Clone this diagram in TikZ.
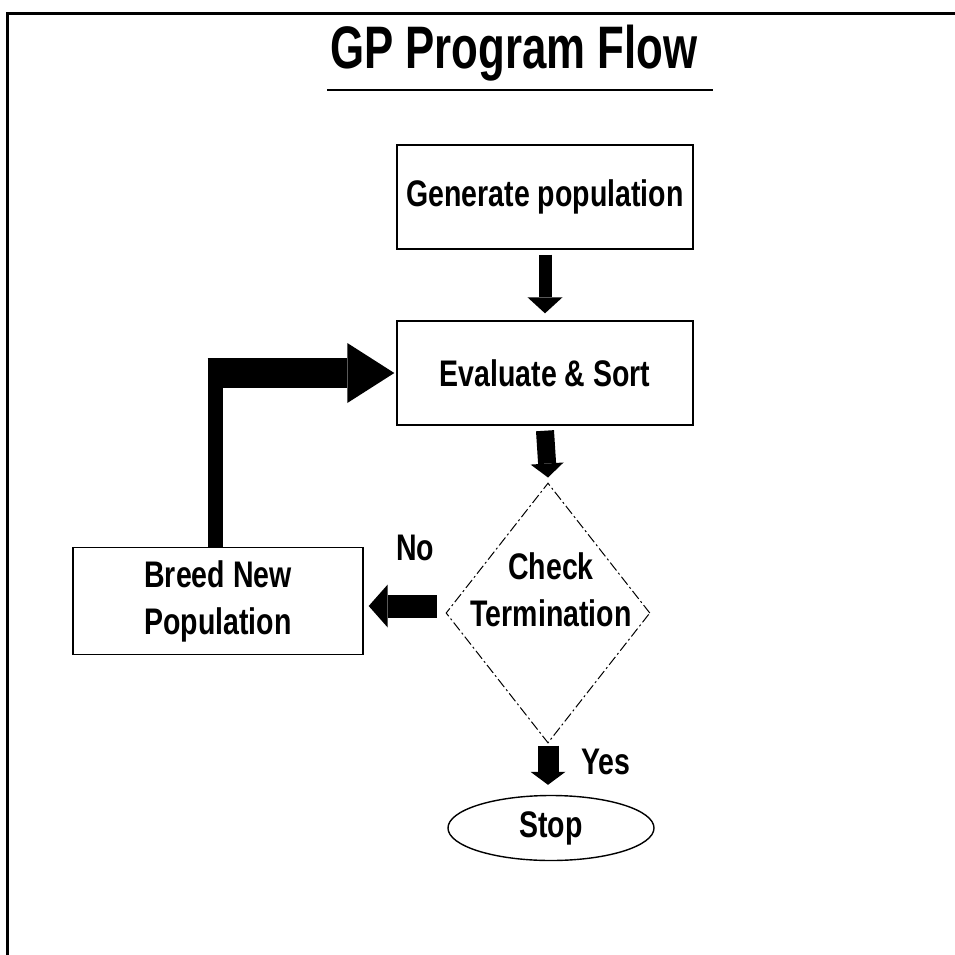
\documentclass[tikz,border=0pt]{standalone}
\usepackage{fontspec}
\setmainfont{Liberation Sans}[FakeStretch=0.77]
\newfontfamily\titlefont{Liberation Sans}[FakeStretch=0.73]
\usetikzlibrary{arrows.meta,shapes.geometric,calc}
\begin{document}
\begin{tikzpicture}[x=0.5pt,y=-0.5pt,
    box/.style={draw,line width=0.7pt,minimum width=148pt,minimum height=52pt,inner sep=0pt,align=center,font=\bfseries\fontsize{18.5}{23.5}\selectfont},
    lbl/.style={inner sep=0pt,align=center,font=\bfseries\fontsize{18.5}{23.5}\selectfont},
    blk/.style n args={3}{line width=#1,-{Triangle[width=#2,length=#3,line width=0pt]}}]
      \useasboundingbox (0,0) rectangle (955,955);
      \draw[line width=1.5pt] (7,955) -- (7,13) -- (955,13);
      \node[inner sep=0pt,font=\titlefont\bfseries\fontsize{30}{36}\selectfont] (title) at (514,53) {GP Program Flow};
      \draw[line width=1pt] (327,90) -- (713,90);
      \node[box] (gen) at (545,197) {Generate population};
      \node[box] (eval) at (545,373) {Evaluate \& Sort};
      \node[diamond,draw,line width=0.5pt,dash pattern=on 5pt off 1.5pt on 1pt off 1.5pt,minimum width=102pt,minimum height=130pt,inner sep=0pt] (chkd) at (548,613) {};
      \node[lbl] (chk) at (551,590) {Check\\Termination};
      \node[box,minimum width=145pt,minimum height=53.5pt] (breed) at (218,601) {Breed New\\Population};
      \node[ellipse,draw,line width=0.7pt,minimum width=103pt,minimum height=32.5pt,inner sep=0pt,font=\bfseries\fontsize{18.5}{23.5}\selectfont] (stop) at (551,828) {Stop};
      \node[lbl] (no) at (415,548) {No};
      \node[lbl] (yes) at (606,762) {Yes};
      \draw[blk={6.5pt}{17.5pt}{8pt}] ($(gen.south)+(0,5)$) -- ($(eval.north)+(0,-7)$);
      \draw[blk={9pt}{16.5pt}{7pt}] ($(eval.south)+(0,5)$) -- ($(chkd.north)+(0,-5)$);
      \draw[blk={11.5pt}{21.5pt}{9.5pt}] ($(chkd.west)+(-9,-7)$) -- ($(breed.east)+(5,5)$);
      \draw[blk={10.5pt}{17.5pt}{6.5pt}] ($(chkd.south)+(0,2)$) -- ($(stop.north)+(-3,-10)$);
      \coordinate (bend) at ($(breed.north |- eval.west)+(-3,0)$);
      \draw[line width=7.5pt] ($(breed.north)+(-3,0)$) -- ($(bend)+(0,-15)$);
      \draw[blk={15pt}{30pt}{23.5pt}] ($(bend)+(-7.5,0)$) -- ($(eval.west)+(-2,0)$);
    \end{tikzpicture}
\end{document}
